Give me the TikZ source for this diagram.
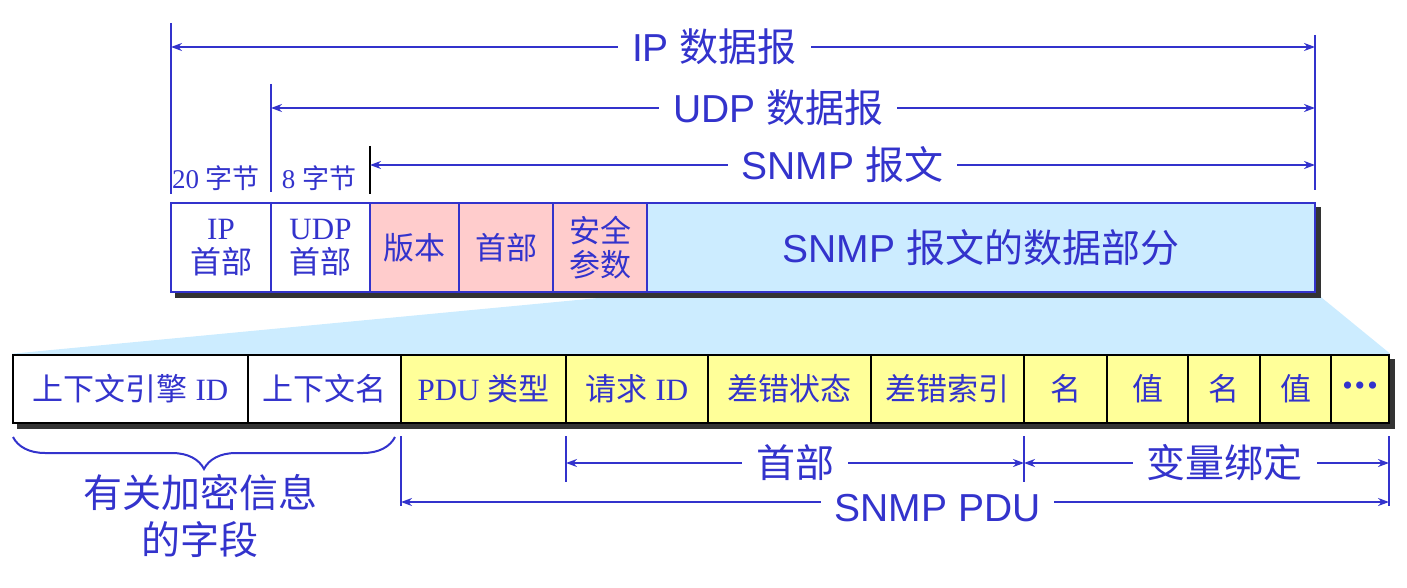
\documentclass[tikz,border=0pt]{standalone}
\usepackage{fontspec}
\setmainfont{Liberation Serif}
\setsansfont{Liberation Sans}
\newfontfamily\cjk{Noto Sans CJK SC}
\usetikzlibrary{arrows.meta,calc,backgrounds,decorations.pathreplacing}
\definecolor{snblue}{RGB}{51,51,204}
\definecolor{snpink}{RGB}{255,204,204}
\definecolor{snsky}{RGB}{204,236,255}
\definecolor{snyellow}{RGB}{255,255,153}
\newcommand{\zh}[1]{{\cjk #1}}
\tikzset{
  >={Stealth[length=11pt,width=8pt]},
  cell/.style={draw=snblue, fill=white, line width=2.5pt, minimum height=89pt, inner sep=0pt, align=center, text=snblue, font=\fontsize{31}{34}\selectfont},
  pcell/.style={cell, draw=black, minimum height=68pt},
  small/.style={text=snblue, font=\fontsize{27}{30}\selectfont},
  big/.style={text=snblue, align=center, font=\sffamily\fontsize{39}{47}\selectfont},
  lbl/.style={big, fill=white, inner xsep=14pt, inner ysep=0pt},
  dim/.style={<->, draw=snblue, line width=2.2pt},
  tick/.style={draw=snblue, line width=2.2pt},
}

\begin{document}
\begin{tikzpicture}[x=1pt, y=-1pt]
  \useasboundingbox (0,0) rectangle (1407,588);
  % SNMP message inside UDP/IP
  \node[cell, minimum width=100pt] (iph)  at (221,247.5)   {IP\\\zh{首部}};
  \node[cell, minimum width=99pt]  (udph) at (320.5,247.5) {UDP\\\zh{首部}};
  \node[cell, minimum width=89pt, fill=snpink] (ver) at (414.5,247.5) {\zh{版本}};
  \node[cell, minimum width=94pt, fill=snpink] (hdr) at (506,247.5)   {\zh{首部}};
  \node[cell, minimum width=94pt, fill=snpink] (sec) at (600,247.5)   {\zh{安全}\\\zh{参数}};
  \node[cell, minimum width=668pt, fill=snsky, font=\sffamily\fontsize{39}{47}\selectfont] (data) at (981,247.5) {SNMP \zh{报文的数据部分}};
  % expanded PDU row
  \node[pcell, minimum width=235pt] (eid)   at (130.5,389)  {\zh{上下文引擎} ID};
  \node[pcell, minimum width=153pt] (cname) at (324.5,389)  {\zh{上下文名}};
  \node[pcell, minimum width=165pt, fill=snyellow] (ptype) at (483.5,389)  {PDU \zh{类型}};
  \node[pcell, minimum width=142pt, fill=snyellow] (reqid) at (637,389)    {\zh{请求} ID};
  \node[pcell, minimum width=163pt, fill=snyellow] (estat) at (789.5,389)  {\zh{差错状态}};
  \node[pcell, minimum width=153pt, fill=snyellow] (eidx)  at (947.5,389)  {\zh{差错索引}};
  \node[pcell, minimum width=83pt,  fill=snyellow] (nm1)   at (1065.5,389) {\zh{名}};
  \node[pcell, minimum width=81pt,  fill=snyellow] (val1)  at (1147.5,389) {\zh{值}};
  \node[pcell, minimum width=72pt,  fill=snyellow] (nm2)   at (1224,389)   {\zh{名}};
  \node[pcell, minimum width=71pt,  fill=snyellow] (val2)  at (1295.5,389) {\zh{值}};
  \node[pcell, minimum width=58pt,  fill=snyellow, font=\fontsize{30}{30}\selectfont] (more) at (1360,389) {\textbullet\hspace{2pt}\textbullet\hspace{2pt}\textbullet};
  % zoom funnel and shadows
  \begin{scope}[on background layer]
    \fill[snsky] (sec.south east) -- (data.south east) -- (more.north east) -- (eid.north west) -- cycle;
    \fill[black!80] ($(iph.north west)+(5,5)$) rectangle ($(data.south east)+(5,5)$);
    \fill[black!80] ($(eid.north west)+(5,5)$) rectangle ($(more.south east)+(5,5)$);
  \end{scope}
  % upper extent marks
  \coordinate (ipT)  at (171,23);   \coordinate (ipB)  at (171,194);
  \coordinate (udpT) at (271,84);   \coordinate (udpB) at (271,192);
  \coordinate (smT)  at (370,146);  \coordinate (smB)  at (370,194);
  \coordinate (endT) at (1315,35);  \coordinate (endB) at (1315,190);
  \draw[tick] (ipT) -- (ipB);
  \draw[tick] (udpT) -- (udpB);
  \draw[tick, draw=black] (smT) -- (smB);
  \draw[tick] (endT) -- (endB);
  \draw[dim] (ipT |- 0,47) -- node[lbl, pos=0.475]{IP \zh{数据报}} (endT |- 0,47);
  \draw[dim] (udpT |- 0,108) -- node[lbl, pos=0.486]{UDP \zh{数据报}} (endT |- 0,108);
  \draw[dim] (smT |- 0,165) -- node[lbl]{SNMP \zh{报文}} (endT |- 0,165);
  \node[small] (len20) at (216,178) {20 \zh{字节}};
  \node[small] (len8)  at (319,178) {8 \zh{字节}};
  % lower extent marks
  \coordinate (pduT) at (401,436);  \coordinate (pduB) at (401,506);
  \coordinate (hdT)  at (566,436);  \coordinate (hdB)  at (566,482);
  \coordinate (vbT)  at (1024,436); \coordinate (vbB)  at (1024,482);
  \coordinate (rgT)  at (1389,436); \coordinate (rgB)  at (1389,506);
  \draw[tick] (pduT) -- (pduB);
  \draw[tick] (hdT) -- (hdB);
  \draw[tick] (vbT) -- (vbB);
  \draw[tick] (rgT) -- (rgB);
  \draw[dim] (hdT |- 0,463) -- node[lbl]{\zh{首部}} (vbT |- 0,463);
  \draw[dim] (vbT |- 0,463) -- node[lbl, pos=0.55]{\zh{变量绑定}} (rgT |- 0,463);
  \draw[dim] (pduT |- 0,502) -- node[lbl, pos=0.543, yshift=-6pt]{SNMP PDU} (rgT |- 0,502);
  % brace over the crypto fields
  \coordinate (brL) at (13,437);
  \coordinate (brR) at (395,437);
  \draw[snblue, line width=2pt, decorate, decoration={brace, mirror, amplitude=32pt}] (brL) -- (brR);
  \node[big] (crypt) at (200,516) {\zh{有关加密信息}\\\zh{的字段}};
\end{tikzpicture}
\end{document}
